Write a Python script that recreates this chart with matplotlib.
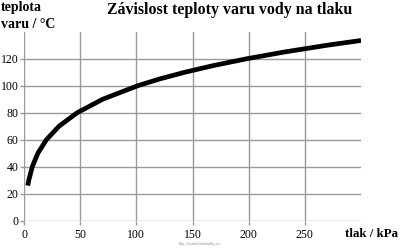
import matplotlib
matplotlib.use("Agg")
import matplotlib.pyplot as plt

# boiling point of water vs pressure
tlak = [3.36, 4.25, 7.38, 12.35, 19.94, 31.19, 47.39, 70.14, 101.33, 120.8, 143.3, 169.1, 198.5, 232.1, 270.1, 300]
teplota = [26, 30, 40, 50, 60, 70, 80, 90, 100, 105, 110, 115, 120, 125, 130, 133.5]

xticks = [0, 50, 100, 150, 200, 250]
yticks = [0, 20, 40, 60, 80, 100, 120]

plt.rcParams['font.family'] = ['Liberation Serif', 'DejaVu Serif']

fig = plt.figure(figsize=(4, 2.48), dpi=100)
ax = fig.add_axes([24/400, 1 - 220.7/248, 337/400, (220.7 - 31.7)/248])

ax.plot(tlak, teplota, color='black', lw=3.4, solid_capstyle='butt')

ax.set_xlim(0, 300)
ax.set_ylim(0, 140)
ax.set_xticks(xticks)
ax.set_yticks(yticks)
ax.grid(True, color='#9a9a9a', lw=1)
ax.set_axisbelow(True)
for s in ax.spines.values():
    s.set_visible(False)
ax.tick_params(length=3, width=1, color='#9a9a9a', labelsize=8.5, pad=1)
ax.tick_params(axis='x', pad=3)

fig.text(230/400, 1 - 10/248, 'Závislost teploty varu vody na tlaku',
         ha='center', va='center', fontsize=11.4, fontweight='bold')
fig.text(1/400, 1 - 16/248, 'teplota\nvaru / °C', ha='left', va='center',
         fontsize=10, fontweight='bold', linespacing=1.4)
fig.text(398/400, 1 - 234/248, 'tlak / kPa', ha='right', va='center',
         fontsize=9.3, fontweight='bold')
fig.text(200/400, 1 - 244/248, 'http://fyzikalnitabulky.cz/', ha='center', va='center',
         fontsize=3, color='#888888')

fig.savefig('out.png', dpi=100)
